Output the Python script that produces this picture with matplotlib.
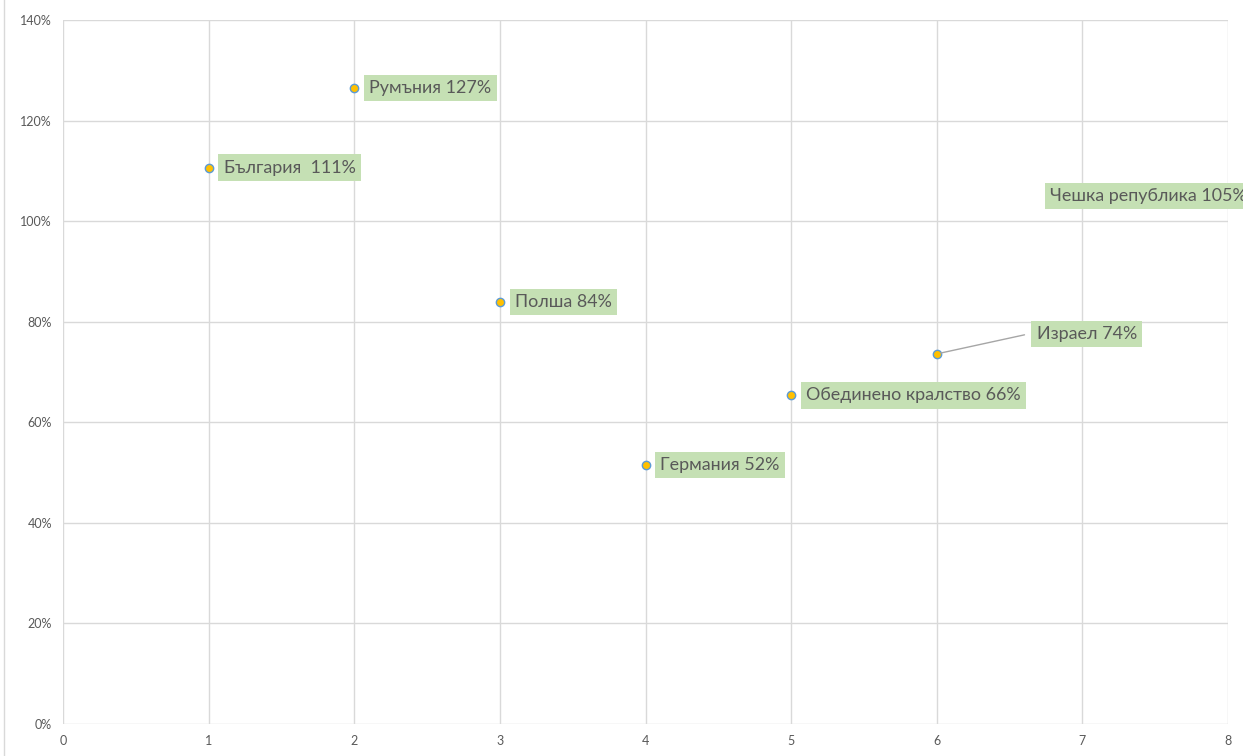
import matplotlib
matplotlib.use("Agg")
import matplotlib.pyplot as plt
from matplotlib.lines import Line2D
from matplotlib.ticker import FuncFormatter, MultipleLocator

plt.rcParams['font.family'] = ['Lato', 'DejaVu Sans']

countries = ["България  111%", "Румъния 127%", "Полша 84%", "Германия 52%",
             "Обединено кралство 66%", "Израел 74%", "Чешка република 105%"]
x_vals = [1, 2, 3, 4, 5, 6, 7]
y_vals = [1.106, 1.265, 0.839, 0.515, 0.654, 0.736, 1.05]

fig = plt.figure(figsize=(12.43, 7.56), dpi=100)
ax = fig.add_axes([63/1243, 1-724/756, (1228-63)/1243, (724-20)/756])

ax.set_xlim(0, 8)
ax.set_ylim(0, 1.4)
ax.xaxis.set_major_locator(MultipleLocator(1))
ax.yaxis.set_major_locator(MultipleLocator(0.2))
ax.yaxis.set_major_formatter(FuncFormatter(lambda v, p: f"{v*100:.0f}%"))
ax.grid(True, color='#D9D9D9', linewidth=1)
ax.set_axisbelow(True)
for s in ax.spines.values():
    s.set_visible(False)
ax.tick_params(length=0, labelsize=9, labelcolor='#595959', pad=8)

ax.plot(x_vals, y_vals, linestyle='none', marker='o', markersize=6,
        markerfacecolor='#FFC000', markeredgecolor='#5B9BD5', markeredgewidth=1, zorder=3)

box = dict(boxstyle='square,pad=0.3', facecolor='#C5E0B4', edgecolor='none')
offsets = [(15, 0), (15, 0), (15, 0), (15, 0), (15, 0), (100, 20), (-32, 0)]
for i, (lbl, xv, yv) in enumerate(zip(countries, x_vals, y_vals)):
    kw = {}
    if i == 5:
        kw['arrowprops'] = dict(arrowstyle='-', color='#A6A6A6', lw=1,
                                connectionstyle='arc,angleA=180,angleB=0,armA=8,armB=0,rad=0',
                                relpos=(0, 0.5), shrinkA=5, shrinkB=3)
    ax.annotate(lbl, (xv, yv), xytext=offsets[i], textcoords='offset pixels',
                ha='left', va='center', fontsize=12.9, color='#595959',
                bbox=box, annotation_clip=False, zorder=4, **kw)

fig.add_artist(Line2D([4/1243, 4/1243], [0, 1], transform=fig.transFigure,
                      color='#D9D9D9', linewidth=1))

fig.savefig("out.png", dpi=100)
